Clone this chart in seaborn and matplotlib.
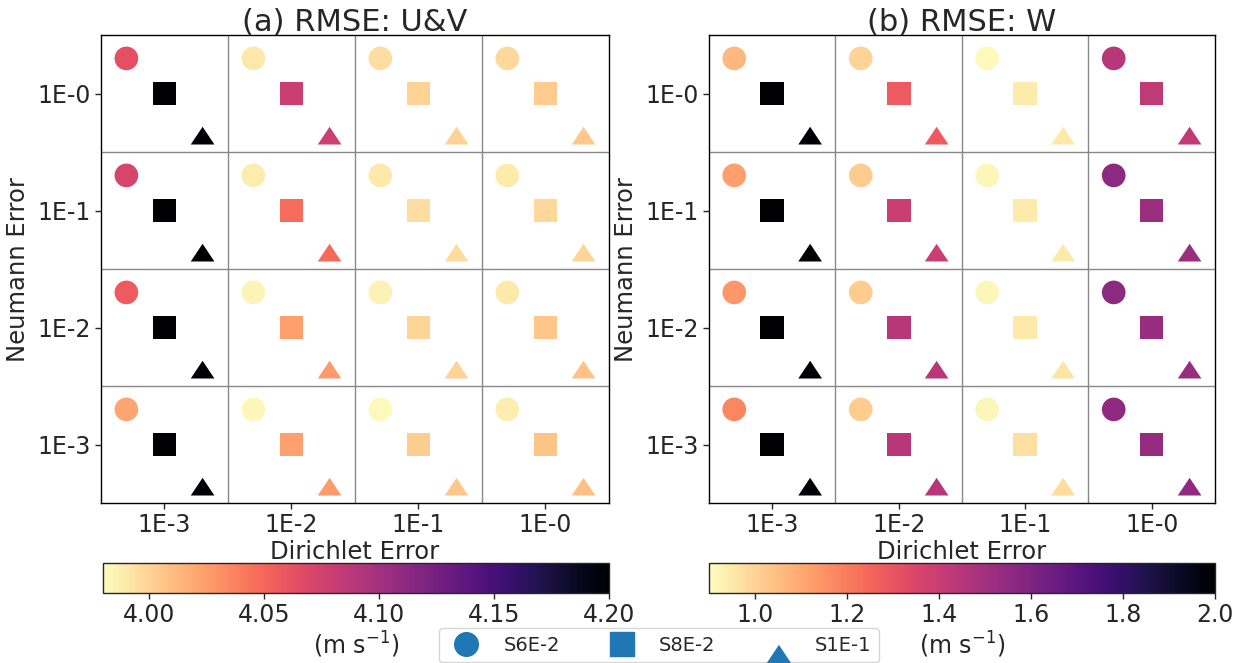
import numpy as np
import pandas as pd
import seaborn as sns
import matplotlib.pyplot as plt
from matplotlib.lines import Line2D
from matplotlib.colors import Normalize
from matplotlib.cm import ScalarMappable

# Error levels on each boundary condition
dirichlet_labels = ["1E-3", "1E-2", "1E-1", "1E-0"]
neumann_labels = ["1E-0", "1E-1", "1E-2", "1E-3"]   # top row first
schemes = ["S6E-2", "S8E-2", "S1E-1"]

# RMSE of U&V (m s^-1); rows follow neumann_labels, columns follow dirichlet_labels
uv_s6e2 = [[4.064, 3.991, 3.995, 3.998],
           [4.072, 3.988, 3.990, 3.989],
           [4.057, 3.985, 3.986, 3.990],
           [4.022, 3.983, 3.982, 3.987]]
uv_s8e2 = [[4.200, 4.079, 4.000, 4.004],
           [4.200, 4.048, 3.995, 3.998],
           [4.200, 4.024, 3.999, 4.006],
           [4.200, 4.023, 4.003, 4.007]]
uv_s1e1 = [[4.200, 4.078, 4.001, 4.005],
           [4.200, 4.049, 3.996, 3.999],
           [4.200, 4.027, 4.000, 4.008],
           [4.200, 4.026, 4.005, 4.009]]

# RMSE of W (m s^-1)
w_s6e2 = [[1.065, 0.999, 0.910, 1.450],
          [1.120, 1.020, 0.915, 1.560],
          [1.142, 1.020, 0.915, 1.560],
          [1.175, 1.020, 0.918, 1.550]]
w_s8e2 = [[2.000, 1.285, 0.944, 1.420],
          [2.000, 1.395, 0.945, 1.516],
          [2.000, 1.450, 0.950, 1.530],
          [2.000, 1.450, 0.970, 1.535]]
w_s1e1 = [[2.000, 1.285, 0.950, 1.420],
          [2.000, 1.395, 0.950, 1.516],
          [2.000, 1.450, 0.960, 1.530],
          [2.000, 1.450, 0.980, 1.550]]

uv_ticks = [4.00, 4.05, 4.10, 4.15, 4.20]
w_ticks = [1.0, 1.2, 1.4, 1.6, 1.8, 2.0]

# placement of each scheme inside its grid cell
offsets = {"S6E-2": (-0.30, -0.30), "S8E-2": (0.0, 0.0), "S1E-1": (0.30, 0.36)}
tri = [(-1.0, -0.75), (1.0, -0.75), (0.0, 0.75)]
markers = {"S6E-2": "o", "S8E-2": "s", "S1E-1": tri}
# legend triangle sits a little below the other keys
tri_key = [(-1.0, -1.58), (1.0, -1.58), (0.0, -0.08)]


def long_table(series):
    rows = []
    for name, grid in zip(schemes, series):
        dx, dy = offsets[name]
        for i in range(len(neumann_labels)):
            for j in range(len(dirichlet_labels)):
                rows.append({"scheme": name, "x": j + dx, "y": i + dy,
                             "rmse": grid[i][j]})
    return pd.DataFrame(rows)


sns.set_style("white")
plt.rcParams["font.family"] = ["DejaVu Sans"]

fig = plt.figure(figsize=(12.53, 6.63), dpi=100)
ax_a = fig.add_axes([0.0806, 0.2413, 0.4054, 0.7059])
ax_b = fig.add_axes([0.5658, 0.2413, 0.4038, 0.7059])
cax_a = fig.add_axes([0.0822, 0.1056, 0.4038, 0.0452])
cax_b = fig.add_axes([0.5658, 0.1056, 0.4038, 0.0452])

panels = [
    (ax_a, cax_a, [uv_s6e2, uv_s8e2, uv_s1e1], (3.98, 4.20), uv_ticks,
     "(a) RMSE: U&V", "{:.2f}"),
    (ax_b, cax_b, [w_s6e2, w_s8e2, w_s1e1], (0.90, 2.00), w_ticks,
     "(b) RMSE: W", "{:.1f}"),
]

for ax, cax, series, (vmin, vmax), cticks, title, fmt in panels:
    df = long_table(series)
    sns.scatterplot(data=df, x="x", y="y", hue="rmse", style="scheme",
                    markers=markers, palette="magma_r", hue_norm=(vmin, vmax),
                    s=290, linewidth=0, legend=False, ax=ax)
    ax.set_xlim(-0.5, 3.5)
    ax.set_ylim(3.5, -0.5)
    ax.set_xticks(range(4))
    ax.set_xticklabels(dirichlet_labels)
    ax.set_yticks(range(4))
    ax.set_yticklabels(neumann_labels)
    for k in (0.5, 1.5, 2.5):
        ax.axvline(k, color="#888888", lw=1.0)
        ax.axhline(k, color="#888888", lw=1.0)
    ax.tick_params(axis="both", which="major", labelsize=17, length=4,
                   width=1, direction="out", bottom=True, left=True)
    for sp in ax.spines.values():
        sp.set_color("black")
        sp.set_linewidth(1.0)
    ax.set_xlabel("Dirichlet Error", fontsize=17.5, labelpad=2)
    ax.set_ylabel("Neumann Error", fontsize=17.5, labelpad=5)
    ax.set_title(title, fontsize=22, pad=3)

    sm = ScalarMappable(norm=Normalize(vmin, vmax), cmap="magma_r")
    cb = fig.colorbar(sm, cax=cax, orientation="horizontal", ticks=cticks)
    cb.ax.set_xticklabels([fmt.format(t) for t in cticks])
    cb.ax.tick_params(labelsize=17, length=4, width=1, bottom=True)
    cb.outline.set_linewidth(1.0)
    cb.set_label("(m s$^{-1}$)", fontsize=17, labelpad=2)

handles = [Line2D([], [], marker="o", color="tab:blue", linestyle="none",
                  markersize=17, label=schemes[0]),
           Line2D([], [], marker="s", color="tab:blue", linestyle="none",
                  markersize=17, label=schemes[1]),
           Line2D([], [], marker=tri_key, color="tab:blue", linestyle="none",
                  markersize=27.4, label=schemes[2])]
fig.legend(handles=handles, loc="upper center", bbox_to_anchor=(0.526, 0.053),
           ncol=3, fontsize=14, frameon=True, columnspacing=2.2,
           handletextpad=0.9, borderaxespad=0.0)

fig.savefig("out.png", dpi=100)
